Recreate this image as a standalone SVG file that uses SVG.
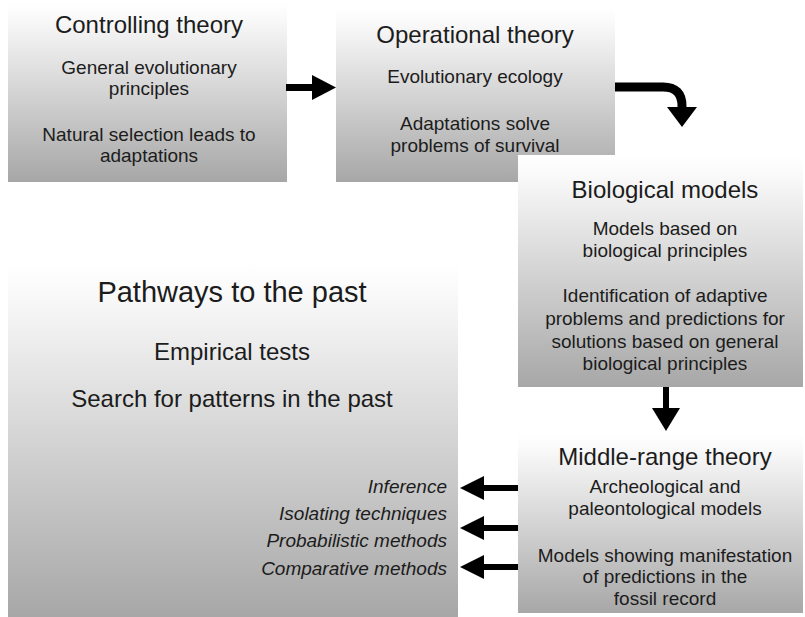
<svg xmlns="http://www.w3.org/2000/svg" width="805" height="617" viewBox="0 0 805 617">
  <defs>
    <linearGradient id="boxFill" x1="0" y1="0" x2="0" y2="1">
      <stop offset="0" stop-color="#ffffff"/>
      <stop offset="0.08" stop-color="#fafafa"/>
      <stop offset="1" stop-color="#a7a7a7"/>
    </linearGradient>
    <style>
      .box { fill: url(#boxFill); }
      text { font-family: "Liberation Sans", Arial, Helvetica, sans-serif; fill: #1c1c1c; text-anchor: middle; }
      .title { font-size: 24px; }
      .big { font-size: 29px; }
      .mid { font-size: 24px; }
      .body { font-size: 19px; }
      .method { font-size: 19px; font-style: italic; text-anchor: end; }
      .shaft { fill: none; stroke: #000; }
      .head { fill: #000; }
    </style>
  </defs>

  <rect width="805" height="617" fill="#ffffff"/>

  <!-- Controlling theory -->
  <g id="controlling">
    <rect class="box" x="8" y="2" width="279" height="180"/>
    <text class="title" x="149" y="33">Controlling theory</text>
    <text class="body" x="149" y="74">General evolutionary</text>
    <text class="body" x="149" y="95">principles</text>
    <text class="body" x="149" y="141">Natural selection leads to</text>
    <text class="body" x="149" y="162">adaptations</text>
  </g>

  <!-- Operational theory -->
  <g id="operational">
    <rect class="box" x="336" y="8" width="279" height="174"/>
    <text class="title" x="475" y="43">Operational theory</text>
    <text class="body" x="475" y="83">Evolutionary ecology</text>
    <text class="body" x="475" y="130">Adaptations solve</text>
    <text class="body" x="475" y="152">problems of survival</text>
  </g>

  <!-- Biological models -->
  <g id="biological">
    <rect class="box" x="518" y="155" width="285" height="232"/>
    <text class="title" x="665" y="198">Biological models</text>
    <text class="body" x="665" y="235">Models based on</text>
    <text class="body" x="665" y="257">biological principles</text>
    <text class="body" x="665" y="302">Identification of adaptive</text>
    <text class="body" x="665" y="325">problems and predictions for</text>
    <text class="body" x="665" y="348">solutions based on general</text>
    <text class="body" x="665" y="370">biological principles</text>
  </g>

  <!-- Pathways to the past -->
  <g id="pathways">
    <rect class="box" x="8" y="262" width="450" height="355"/>
    <text class="big" x="232" y="302">Pathways to the past</text>
    <text class="mid" x="232" y="360">Empirical tests</text>
    <text class="mid" x="232" y="407">Search for patterns in the past</text>
    <text class="method" x="447" y="493">Inference</text>
    <text class="method" x="447" y="520">Isolating techniques</text>
    <text class="method" x="447" y="547">Probabilistic methods</text>
    <text class="method" x="447" y="575">Comparative methods</text>
  </g>

  <!-- Middle-range theory -->
  <g id="middle-range">
    <rect class="box" x="518" y="433" width="285" height="180"/>
    <text class="title" x="665" y="465">Middle-range theory</text>
    <text class="body" x="665" y="493">Archeological and</text>
    <text class="body" x="665" y="515">paleontological models</text>
    <text class="body" x="665" y="562">Models showing manifestation</text>
    <text class="body" x="665" y="583">of predictions in the</text>
    <text class="body" x="665" y="605">fossil record</text>
  </g>

  <!-- Connectors -->
  <g id="connectors">
    <path class="shaft" d="M286,87.5 H314" stroke-width="7"/>
    <polygon class="head" points="312,75 336,87.5 312,100"/>

    <path class="shaft" d="M615,87 H663 Q682,87 682,106 V110" stroke-width="9"/>
    <polygon class="head" points="667,107 697,107 682,127"/>

    <path class="shaft" d="M666,387 V410" stroke-width="6"/>
    <polygon class="head" points="652,408 680,408 666,431"/>

    <path class="shaft" d="M518,488 H480" stroke-width="6"/>
    <polygon class="head" points="484,476 460,488 484,500"/>
    <path class="shaft" d="M518,528 H480" stroke-width="6"/>
    <polygon class="head" points="484,516 460,528 484,540"/>
    <path class="shaft" d="M518,567 H480" stroke-width="6"/>
    <polygon class="head" points="484,555 460,567 484,579"/>
  </g>
</svg>
